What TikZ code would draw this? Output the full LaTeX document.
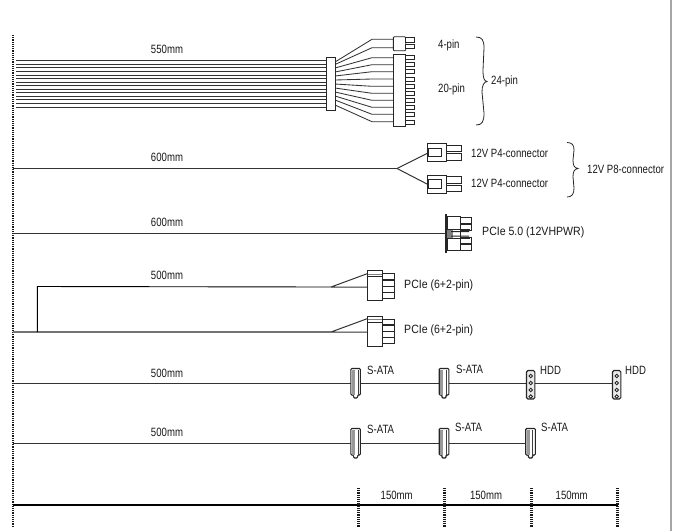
\documentclass[tikz,border=0pt]{standalone}
\usepackage{fontspec}
\setmainfont[FakeStretch=0.8]{Liberation Sans}
\newfontfamily\widef[FakeStretch=0.88]{Liberation Sans}
\usetikzlibrary{decorations.pathreplacing}
\tikzset{
  lbl/.style={font=\fontsize{12}{14}\selectfont,inner sep=0pt,text=black!90},
  lblr/.style={lbl,anchor=west},
  lblw/.style={lblr,font=\fontsize{12}{14}\selectfont\widef},
  wire/.style={draw=black!80,line width=1pt},
  thin wire/.style={draw=black!80,line width=0.85pt},
  body/.style={draw=black!85,fill=white,line width=0.9pt},
  dots/.style={draw=black!90,line width=2.6pt,dash pattern=on 1.1pt off 1.1pt},
  brc/.style={draw=black!85,line width=0.8pt},
}
\newcommand{\satacon}[2]{%
  \draw[body,line width=1.1pt,rounded corners=1pt] (#1-4.8,#2-14.5) -- (#1+4.8,#2-14.5) -- (#1+4.8,#2+12) -- (#1+2,#2+12) -- (#1+2,#2+15) -- (#1-2,#2+15) -- (#1-2,#2+12)-- (#1-4.8,#2+12) -- cycle;
  \fill[black!40] (#1-3.8,#2-13.5) rectangle (#1-1,#2+11.5);
  \draw[black!75,line width=0.6pt] (#1+2.2,#2-13.5) -- (#1+2.2,#2+11.5);
}
\newcommand{\hddcon}[2]{%
  \draw[body,fill=black!8,line width=1.1pt,rounded corners=1.5pt] (#1-4.2,#2-13.5) rectangle (#1+4.2,#2+15);
  \foreach \d in {-7.5,-0.5,6.5,13} {\draw[black!85,line width=0.9pt,fill=white] (#1,#2+\d-0.5) circle (1.7);}
}
\newcommand{\pfourcon}[2]{%
  \draw[body] (#1,#2-9.2) rectangle (#1+18.7,#2+9.2);
  \draw[body] (#1+0.8,#2-4.4) rectangle (#1+14.5,#2+4.2);
  \draw[body] (#1+18.7,#2-7.5) rectangle (#1+34.2,#2-0.8);
  \draw[body] (#1+18.7,#2+0.9) rectangle (#1+34.2,#2+7.6);
}
\newcommand{\pciecon}[2]{%
  \draw[body] (#1,#2) rectangle (#1+14.6,#2+30);
  \draw[black!85,line width=0.9pt] (#1,#2+6) -- (#1+14.6,#2+6);
  \draw[black!50,line width=0.9pt] (#1,#2+3.6) -- (#1+14.6,#2+3.6);
  \foreach \d in {3,9.6,15.8,21.8} {\draw[body] (#1+14.6,#2+\d) rectangle (#1+26.6,#2+\d+5.8);}
}
\begin{document}
\begin{tikzpicture}[x=1pt,y=-1pt]
\useasboundingbox (0,0) rectangle (676,531);
% right edge
\coordinate (etop) at (671,0);
\coordinate (ebot) at (671,531);
\draw[black!35,line width=2pt] (etop) -- (ebot);
% dotted rule
\coordinate (dtop) at (13,35);
\coordinate (dbot) at (13,527);
\draw[dots] (dtop) -- (dbot);
% 24-pin bundle
\foreach \i in {0,...,13} {\draw[thin wire] (16,60.7+3.56*\i) -- (327,60.7+3.56*\i);}
\node[body,minimum width=8.3pt,minimum height=52.3pt,inner sep=0pt] (main) at (331,84) {};
% fan
\foreach \a/\b in {
 62/39.3, 64.5/47.7, 68/57.7, 72/64.7, 76/71.7, 80/79, 84/86.3, 88/93.3, 92/100.3, 96/107.3, 100/114.3, 105/121.7}
 {\draw[thin wire] (335,\a) -- (372,\b) -- (393.5,\b);}
\node[body,minimum width=12.4pt,minimum height=14pt,inner sep=0pt,rounded corners=1pt] (four) at (399.5,43.7) {};
\node[body,minimum width=12.4pt,minimum height=72.4pt,inner sep=0pt] (twenty) at (399.5,90.5) {};
\foreach \y in {37.7,44.2} {\draw[body] (405.7,\y) rectangle (414,\y+4.6);}
\foreach \i in {0,...,9} {\draw[body] (405.7,55.5+7.18*\i) rectangle (414,55.5+7.18*\i+4);}
\node[lbl] (l550) at (167,49) {550mm};
\node[lblr] (l4) at (438,45) {4-pin};
\node[lblr] (l20) at (438,89) {20-pin};
\draw[brc] (476,37) .. controls (482,37) and (484,40) .. (484,48) -- (483,70) .. controls (483,78) and (484,81) .. (487,81.5) .. controls (484,82) and (482,85) .. (482,92) -- (484,113) .. controls (484,122) and (482,125) .. (476,125);
\node[lblr] (l24) at (491,81) {24-pin};
% P8
\coordinate (ps) at (397,168.5);
\draw[wire] (13,168.5) -- (ps);
\draw[wire] (ps) -- (428,153);
\draw[wire] (ps) -- (428,184.5);
\pfourcon{427.3}{152.5}
\pfourcon{427.3}{184.2}
\node[lbl] (l600a) at (167,157) {600mm};
\node[lblr] (p4a) at (471,153) {12V P4-connector};
\node[lblr] (p4b) at (471,183) {12V P4-connector};
\draw[brc] (567,142.5) .. controls (572,142.5) and (574,145) .. (574,150) -- (573,160) .. controls (573,165) and (574,168) .. (578,168.5) .. controls (574,169) and (573,172) .. (573,177) -- (574,188) .. controls (574,194) and (572,197) .. (567,197);
\node[lblr] (p8) at (587,169) {12V P8-connector};
% PCIe 5.0
\draw[wire] (13,233.3) -- (446,233.3);
\node[lbl] (l600b) at (167,222) {600mm};
\draw[body] (447,216) rectangle (460,250);
\foreach \y in {217.3,224.6,237,244} {\draw[body] (460,\y) rectangle (471.7,\y+6);}
\fill[black!85] (445.2,214) rectangle (447.4,252.7);
\fill[black!50] (447,229.5) rectangle (453,238);
\draw[black!85,line width=0.9pt] (447,229.5) -- (470,229.5) (447,238) -- (470,238);
\fill[black!85] (451,231) rectangle (469,232) (451,235.5) rectangle (469,236.5);
\node[lblw] (p5) at (482,232) {PCIe 5.0 (12VHPWR)};
% PCIe 6+2
\coordinate (sa) at (331,287);
\coordinate (sb) at (331,332);
\coordinate (j) at (37.3,332);
\draw[wire,draw=black!55,line width=1.3pt] (13,332) -- (sb);
\draw[wire,draw=black,line width=0.9pt] (j) -- (37.3,286.5) -- (sa);
\draw[wire] (sa) -- (367.7,273.5) (sa) -- (367.7,287);
\draw[wire] (sb) -- (367.7,318.5) (sb) -- (367.7,332);
\pciecon{367.7}{270.7}
\pciecon{367.7}{316}
\node[lbl] (l500a) at (167,275) {500mm};
\node[lblw] (pa) at (404,285) {PCIe (6+2-pin)};
\node[lblw] (pb) at (404,330) {PCIe (6+2-pin)};
% SATA row 1
\draw[wire] (13,383.3) -- (612.5,383.3);
\satacon{355.6}{383}
\satacon{444}{383}
\hddcon{530.7}{384}
\hddcon{616.7}{384}
\node[lbl] (l500b) at (167,373) {500mm};
\node[lblr] (s1) at (367,370) {S-ATA};
\node[lblr] (s2) at (456,369) {S-ATA};
\node[lblr] (h1) at (540,370) {HDD};
\node[lblr] (h2) at (625,370) {HDD};
% SATA row 2
\draw[wire] (13,443) -- (526,443);
\satacon{355.6}{443}
\satacon{444}{443}
\satacon{530.5}{443}
\node[lbl] (l500c) at (167,432) {500mm};
\node[lblr] (s3) at (367,429) {S-ATA};
\node[lblr] (s4) at (455,427) {S-ATA};
\node[lblr] (s5) at (541,427) {S-ATA};
% ruler
\coordinate (ra) at (13,505);
\coordinate (rb) at (618,505);
\draw[black,line width=2.2pt] (ra) -- (rb);
\foreach \x in {358.3,444.3,531.7,617.3} {\draw[dots] (\x,488) -- (\x,527);}
\node[lbl] (m1) at (396.7,495) {150mm};
\node[lbl] (m2) at (486,495) {150mm};
\node[lbl] (m3) at (571.7,495) {150mm};
\end{tikzpicture}
\end{document}
